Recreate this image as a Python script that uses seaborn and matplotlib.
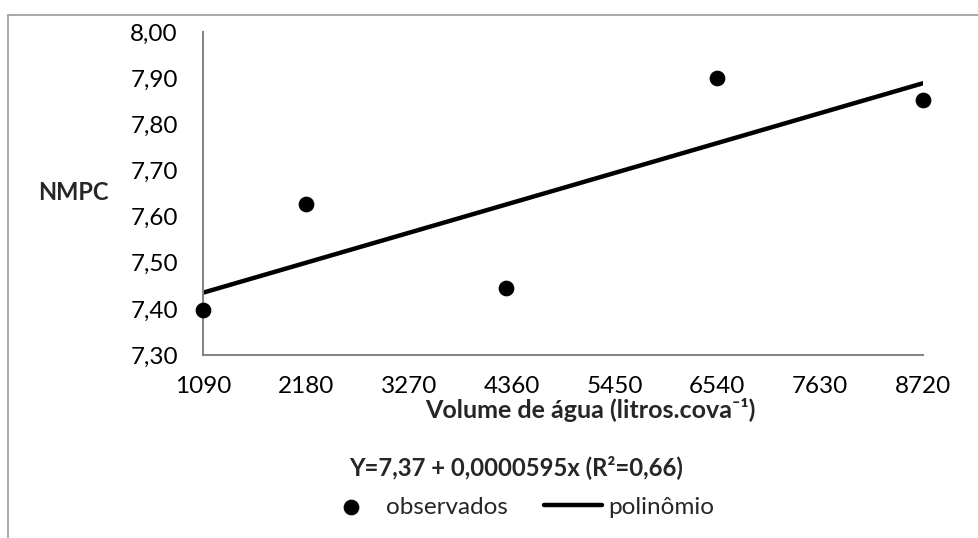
import matplotlib
matplotlib.use("Agg")
import matplotlib.pyplot as plt
from matplotlib.lines import Line2D
import seaborn as sns
import pandas as pd

# dados
volume = [1090, 2180, 4300, 6540, 8720]
nmpc = [7.397, 7.627, 7.445, 7.900, 7.853]
reta_x = [1090, 8720]
reta_y = [7.435, 7.889]
x_ticks = [1090, 2180, 3270, 4360, 5450, 6540, 7630, 8720]
y_ticks = [7.30, 7.40, 7.50, 7.60, 7.70, 7.80, 7.90, 8.00]

sns.set_theme(style="white")
plt.rcParams['font.family'] = ['Lato', 'DejaVu Sans']

cinza = "#868686"
df_obs = pd.DataFrame({"volume": volume, "nmpc": nmpc})
df_reta = pd.DataFrame({"volume": reta_x, "nmpc": reta_y})

fig = plt.figure(figsize=(9.79, 5.38), dpi=100)
ax = fig.add_axes([203 / 979, 1 - 355 / 538, 720 / 979, 323 / 538])

sns.lineplot(data=df_reta, x="volume", y="nmpc", color="black", linewidth=3.2,
             ax=ax, label="polinômio", legend=False)
sns.scatterplot(data=df_obs, x="volume", y="nmpc", color="black", s=110,
                edgecolor="black", ax=ax, label="observados", legend=False,
                zorder=3, clip_on=False)

ax.set_xlim(x_ticks[0], x_ticks[-1])
ax.set_ylim(y_ticks[0], y_ticks[-1])
ax.set_xticks(x_ticks)
ax.set_xticklabels([str(v) for v in x_ticks])
ax.set_yticks(y_ticks)
ax.set_yticklabels([f"{v:.2f}".replace(".", ",") for v in y_ticks])
ax.set_xlabel("")
ax.set_ylabel("")

for s in ["top", "right"]:
    ax.spines[s].set_visible(False)
for s in ["left", "bottom"]:
    ax.spines[s].set_color(cinza)
    ax.spines[s].set_linewidth(1.5)
ax.tick_params(axis="both", direction="out", length=6, width=1.5, color=cinza,
               labelsize=17.5, labelcolor="black")
ax.tick_params(axis="y", pad=12)
ax.tick_params(axis="x", pad=9)
for sp in ax.spines.values():
    sp.set_clip_on(False)

# rótulos
fig.text(73 / 979, 1 - 193 / 538, "NMPC", ha="center", va="center",
         fontsize=17, fontweight="bold")
fig.text(590 / 979, 1 - 410 / 538, "Volume de água (litros.cova⁻¹)", ha="center",
         va="center", fontsize=18, fontweight="bold")
fig.text(516 / 979, 1 - 467 / 538, "Y=7,37 + 0,0000595x (R²=0,66)", ha="center",
         va="center", fontsize=17.2, fontweight="bold")

handles, labels = ax.get_legend_handles_labels()
ordem = [labels.index("observados"), labels.index("polinômio")]
fig.legend([handles[i] for i in ordem], [labels[i] for i in ordem],
           loc="center", bbox_to_anchor=(518 / 979, 1 - 507 / 538), ncol=2,
           frameon=False, fontsize=17.5, handlelength=2.4, handletextpad=0.25,
           columnspacing=1.5, borderpad=0)

# moldura da área do gráfico
fig.add_artist(Line2D([8 / 979, 8 / 979], [0, 1 - 15 / 538], color="#9a9a9a",
                      linewidth=1.2, transform=fig.transFigure))
fig.add_artist(Line2D([8 / 979, 1], [1 - 15 / 538, 1 - 15 / 538], color="#9a9a9a",
                      linewidth=1.2, transform=fig.transFigure))

fig.savefig("out.png", dpi=100)
